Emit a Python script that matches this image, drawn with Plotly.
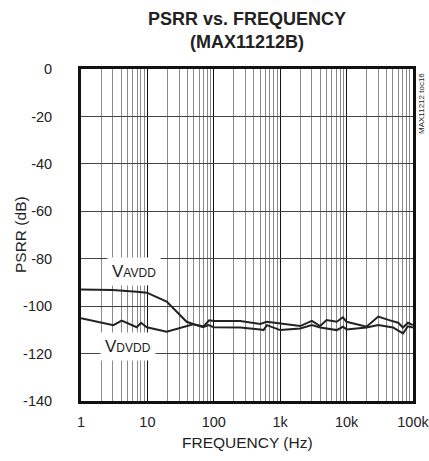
import plotly.graph_objects as go

# Data
avdd_freq = [1, 3, 6.9, 9.8, 19.5, 39, 50, 70, 85, 100, 250, 500, 630, 1000, 2000, 3000, 4000, 5000, 7100, 8800, 10000, 20000, 30000, 45000, 60000, 70700, 84000, 100000]
avdd_db = [-93.0, -93.2, -93.9, -94.3, -98.1, -106.6, -107.6, -108.6, -106.0, -106.3, -106.3, -107.5, -106.6, -107.3, -108.4, -106.2, -108.4, -105.9, -106.6, -104.7, -106.6, -108.7, -104.4, -106.0, -107.0, -109.0, -107.0, -108.0]
dvdd_freq = [1, 3.07, 4.1, 6.9, 8, 9.8, 19.5, 39, 49, 69, 83, 100, 250, 500, 560, 630, 1000, 2000, 3000, 4000, 7100, 8800, 10000, 20000, 30000, 50000, 70700, 84000, 100000]
dvdd_db = [-105.1, -108.0, -106.1, -108.9, -107.0, -108.9, -110.8, -108.4, -107.6, -108.9, -108.0, -108.9, -109.0, -109.8, -110.1, -108.0, -110.1, -109.4, -108.0, -109.0, -110.1, -108.7, -109.8, -109.0, -108.0, -109.0, -111.5, -108.5, -109.0]

x_tickvals = [1, 10, 100, 1000, 10000, 100000]
x_ticktext = ["1", "10", "100", "1k", "10k", "100k"]
y_tickvals = [0, -20, -40, -60, -80, -100, -120, -140]
y_ticktext = ["0", "-20", "-40", "-60", "-80", "-100", "-120", "-140"]

minor_vals = [m * 10 ** d for d in range(5) for m in range(2, 10)]

FONT = "Liberation Sans, Arial, sans-serif"

fig = go.Figure()
fig.add_trace(go.Scatter(x=avdd_freq, y=avdd_db, mode="lines",
                         line=dict(color="#222222", width=2), showlegend=False))
fig.add_trace(go.Scatter(x=dvdd_freq, y=dvdd_db, mode="lines",
                         line=dict(color="#222222", width=2), showlegend=False))

fig.update_layout(
    template="none",
    width=429, height=461,
    margin=dict(l=81, r=16, t=69, b=60),
    paper_bgcolor="white", plot_bgcolor="white",
    font=dict(family=FONT, size=15, color="#222222"),
    xaxis=dict(type="log", range=[-0.0005, 5.0005], tickvals=x_tickvals, ticktext=x_ticktext,
               automargin=False, tickfont=dict(size=14.5),
               showgrid=True, gridcolor="#111111", gridwidth=1,
               minor=dict(tickvals=minor_vals, showgrid=True, gridcolor="#8a8a8a", gridwidth=1, ticks=""),
               showline=True, linecolor="#111111", linewidth=3, mirror=True,
               ticks="", ticklabelstandoff=6, zeroline=False, ticklabeloverflow="allow"),
    yaxis=dict(range=[-140, 0], tickvals=y_tickvals, ticktext=y_ticktext,
               automargin=False, tickfont=dict(size=14.5),
               showgrid=True, gridcolor="#444444", gridwidth=1,
               showline=True, linecolor="#111111", linewidth=3, mirror=True,
               ticks="", ticklabelstandoff=23, zeroline=False),
)

fig.add_annotation(x=0.5, y=1, xref="paper", yref="paper", xanchor="center", yanchor="bottom",
                   yshift=15, text="<b>PSRR vs. FREQUENCY<br>(MAX11212B)</b>", showarrow=False,
                   font=dict(size=18, family=FONT, color="#222222"))
fig.add_annotation(x=0.5, y=0, xref="paper", yref="paper", xanchor="center", yanchor="middle",
                   yshift=-41, text="FREQUENCY (Hz)", showarrow=False,
                   font=dict(size=15.5, family=FONT, color="#222222"))
fig.add_annotation(x=0, y=0.5, xref="paper", yref="paper", xanchor="center", yanchor="middle",
                   xshift=-61, text="PSRR (dB)", textangle=-90, showarrow=False,
                   font=dict(size=15.5, family=FONT, color="#222222"))
fig.add_annotation(x=0.80, y=-85.6, xref="x", yref="y",
                   text="V<span style='font-size:12px'>AVDD</span>", showarrow=False,
                   bgcolor="white", font=dict(size=17, family=FONT), borderpad=4)
fig.add_annotation(x=0.70, y=-117.2, xref="x", yref="y",
                   text="V<span style='font-size:12px'>DVDD</span>", showarrow=False,
                   bgcolor="white", font=dict(size=17, family=FONT), borderpad=4)
fig.add_annotation(x=1.0, y=1.0, xref="paper", yref="paper", xanchor="left", yanchor="top",
                   xshift=2, yshift=-2, text="MAX11212 toc16", textangle=-90, showarrow=False,
                   font=dict(size=8, family=FONT))

fig.write_html("out.html", config={"displayModeBar": False},
               post_script="document.body.style.margin='0';document.body.style.overflow='hidden';")
